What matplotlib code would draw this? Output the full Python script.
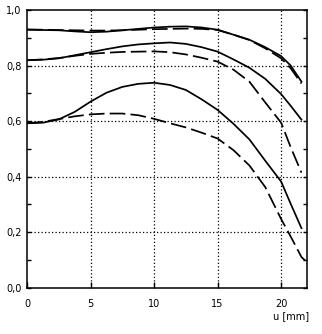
import matplotlib
matplotlib.use("Agg")
import matplotlib.pyplot as plt

u = [0, 1.25, 2.5, 3.75, 5, 6.25, 7.5, 8.75, 10, 11.25, 12.5, 13.75,
     15, 16.25, 17.5, 18.75, 20, 20.75, 21.6]

top_solid = [0.929, 0.928, 0.927, 0.923, 0.920, 0.922, 0.927, 0.932, 0.937, 0.940,
             0.941, 0.937, 0.929, 0.911, 0.893, 0.866, 0.834, 0.800, 0.742]
top_dashed = [0.930, 0.929, 0.928, 0.927, 0.926, 0.926, 0.927, 0.929, 0.931, 0.932,
              0.933, 0.932, 0.928, 0.911, 0.892, 0.862, 0.826, 0.790, 0.735]
mid_solid = [0.819, 0.821, 0.826, 0.837, 0.848, 0.859, 0.869, 0.876, 0.880, 0.883,
             0.878, 0.866, 0.850, 0.822, 0.792, 0.752, 0.697, 0.655, 0.605]
mid_dashed = [0.819, 0.822, 0.827, 0.835, 0.842, 0.846, 0.849, 0.850, 0.851, 0.848,
              0.840, 0.828, 0.814, 0.785, 0.742, 0.667, 0.594, 0.506, 0.414]
low_solid = [0.592, 0.594, 0.606, 0.633, 0.670, 0.702, 0.723, 0.734, 0.738, 0.730,
             0.712, 0.678, 0.640, 0.590, 0.534, 0.457, 0.382, 0.302, 0.214]
# the lowest dashed curve has a short flat tail at the right end
low_dashed_u = u + [21.9]
low_dashed = [0.592, 0.597, 0.607, 0.617, 0.624, 0.627, 0.627, 0.621, 0.608, 0.592,
              0.577, 0.558, 0.537, 0.495, 0.440, 0.362, 0.247, 0.184, 0.110, 0.097]

xticks = [0, 5, 10, 15, 20]
yticks = [0.0, 0.2, 0.4, 0.6, 0.8, 1.0]
ytick_labels = ["0,0", "0,2", "0,4", "0,6", "0,8", "1,0"]
yminor = [0.1, 0.3, 0.5, 0.7, 0.9]

fig = plt.figure(figsize=(3.22, 3.34), dpi=100)
ax = fig.add_axes([0.084, 0.139, 0.868, 0.831])

dash = (0, (9, 3))
for ys in (top_solid, mid_solid, low_solid):
    ax.plot(u, ys, color="black", lw=1.25)
ax.plot(u, top_dashed, color="black", lw=1.25, linestyle=dash)
ax.plot(u, mid_dashed, color="black", lw=1.25, linestyle=dash)
ax.plot(low_dashed_u, low_dashed, color="black", lw=1.25, linestyle=dash)

ax.set_xlim(0, 22)
ax.set_ylim(0, 1.0)
ax.set_xticks(xticks)
ax.set_yticks(yticks)
ax.set_yticklabels(ytick_labels)
ax.set_yticks(yminor, minor=True)

# dotted grid, only at the inner ticks
for gx in xticks[1:]:
    ax.axvline(gx, color="black", lw=0.9, linestyle=(0, (1, 1.8)), zorder=0)
for gy in yticks[1:-1]:
    ax.axhline(gy, color="black", lw=0.9, linestyle=(0, (1, 1.8)), zorder=0)

ax.tick_params(axis="both", which="both", direction="in", labelsize=7,
               width=1.0, color="black")
ax.tick_params(axis="y", which="both", right=True, length=3, pad=4)
ax.tick_params(axis="x", which="major", length=4, pad=8)
for s in ax.spines.values():
    s.set_linewidth(1.1)

fig.text(0.905, 0.055, "u [mm]", fontsize=7, ha="center", va="center")

fig.savefig("out.png", dpi=100)
